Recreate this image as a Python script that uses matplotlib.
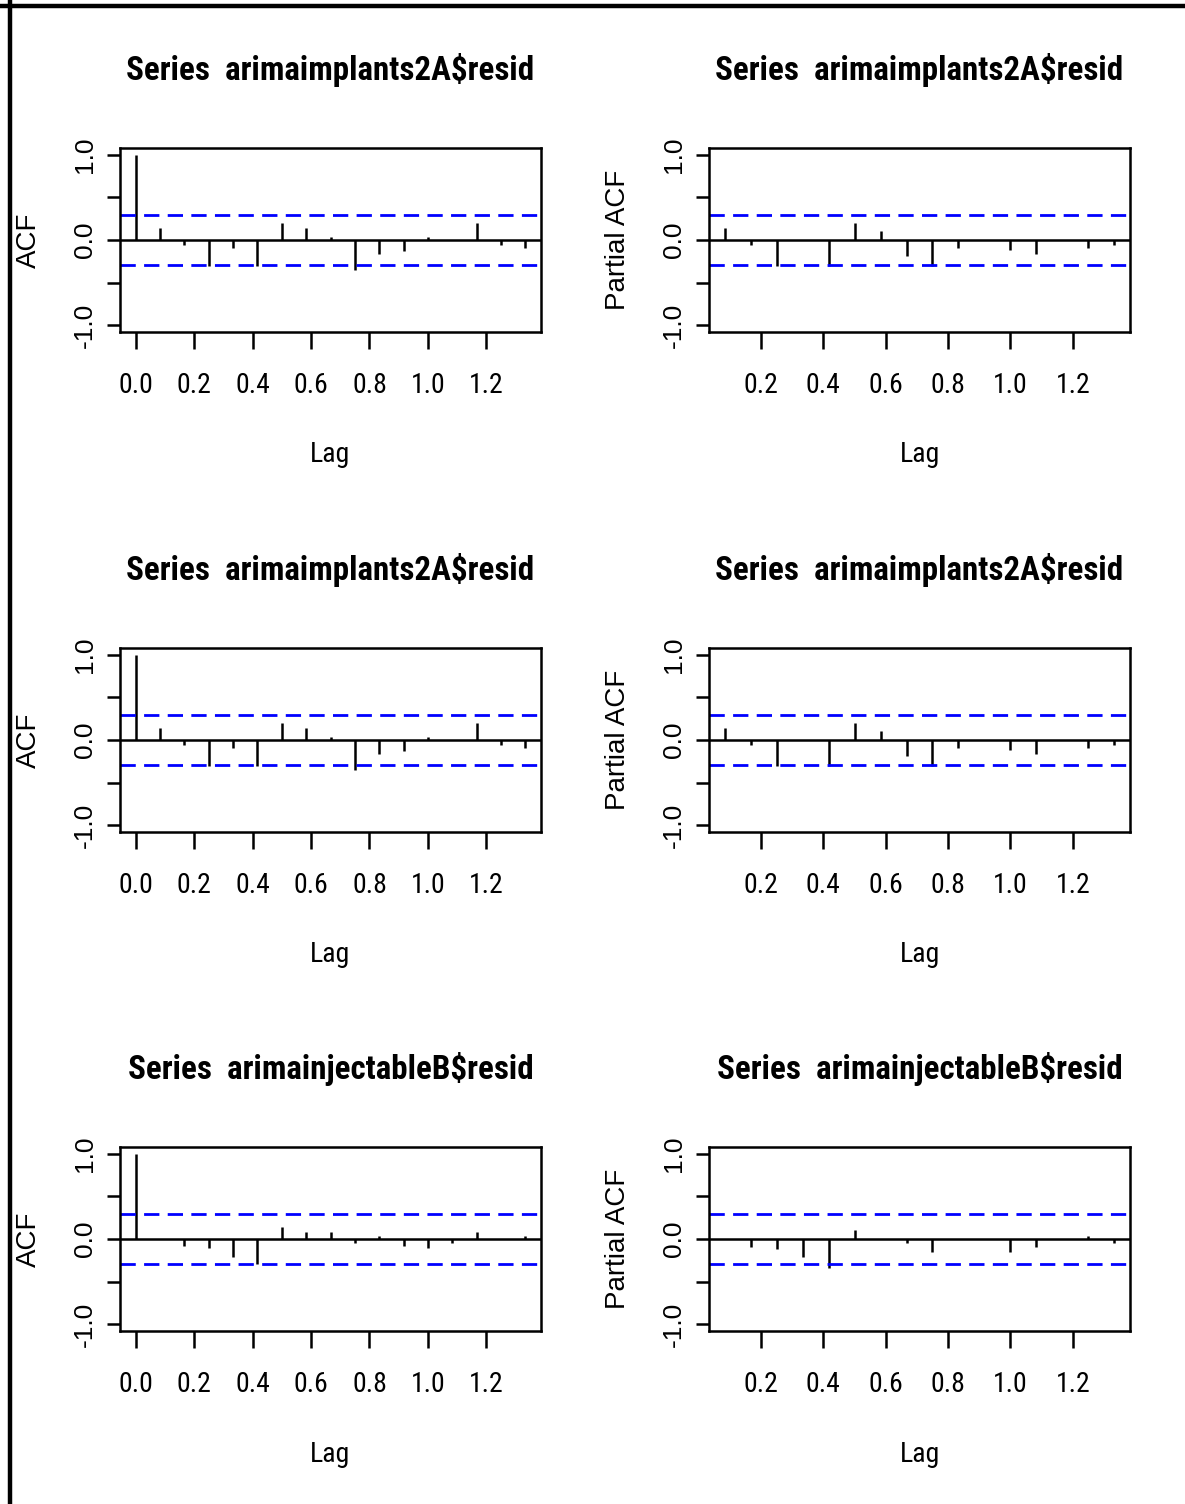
import matplotlib
matplotlib.use("Agg")
import matplotlib.pyplot as plt
from matplotlib import font_manager
import numpy as np

# ---------------- data ----------------
titles = ["Series  arimaimplants2A$resid", "Series  arimaimplants2A$resid",
          "Series  arimainjectableB$resid"]
freq = 12
acf_A = [1.0, 0.14, -0.06, -0.30, -0.09, -0.30, 0.20, 0.14, 0.04, -0.35,
         -0.16, -0.13, 0.04, 0.0, 0.20, -0.06, -0.09]
pacf_A = [0.14, -0.06, -0.30, 0.0, -0.30, 0.20, 0.11, -0.19, -0.30, -0.09,
          0.0, -0.12, -0.16, 0.0, -0.09, -0.06]
acf_B = [1.0, 0.0, -0.08, -0.11, -0.21, -0.29, 0.14, 0.08, 0.08, -0.05,
         0.04, -0.08, -0.11, -0.05, 0.08, 0.0, 0.04]
pacf_B = [0.0, -0.09, -0.12, -0.21, -0.34, 0.11, 0.0, -0.05, -0.15, 0.0,
          0.0, -0.15, -0.09, 0.0, 0.04, -0.05]
ci = 0.289
rows = [(acf_A, pacf_A), (acf_A, pacf_A), (acf_B, pacf_B)]
xticks = [0.0, 0.2, 0.4, 0.6, 0.8, 1.0, 1.2]
yticks = [-1.0, -0.5, 0.0, 0.5, 1.0]
ytick_labels = ["-1.0", "", "0.0", "", "1.0"]

# ---------------- fonts ----------------
names = {f.name for f in font_manager.fontManager.ttflist}
NARROW = None
for cand in ["Liberation Sans Narrow", "Roboto Condensed", "Open Sans Condensed",
             "DejaVu Sans Condensed"]:
    if cand in names:
        NARROW = dict(family=cand)
        break
if NARROW is None:
    NARROW = dict(family="DejaVu Sans", stretch="condensed")
REG = dict(family="Liberation Sans" if "Liberation Sans" in names else "DejaVu Sans")

W, H = 1185, 1504
fig = plt.figure(figsize=(W / 100, H / 100), dpi=100)

# figure border (left and top)
fig.add_artist(plt.Line2D([9.5 / W, 9.5 / W], [0, 1], color="black", lw=3.2,
                          transform=fig.transFigure))
fig.add_artist(plt.Line2D([0, 1], [1 - 6 / H, 1 - 6 / H], color="black", lw=3.2,
                          transform=fig.transFigure))

lefts = [120, 709]
tops = [148, 648, 1147]
aw, ah = 421, 184

for r, (acf, pacf) in enumerate(rows):
    for c in range(2):
        ax = fig.add_axes([lefts[c] / W, 1 - (tops[r] + ah) / H, aw / W, ah / H])
        if c == 0:
            vals = np.array(acf)
            lags = np.arange(len(vals)) / freq
            ylab = "ACF"
        else:
            vals = np.array(pacf)
            lags = np.arange(1, len(vals) + 1) / freq
            ylab = "Partial ACF"
        ax.vlines(lags, 0, vals, color="black", lw=1.8)
        ax.axhline(0, color="black", lw=1.8)
        for s in (ci, -ci):
            ax.axhline(s, color="#0000ff", lw=2.0, dashes=(5.5, 3.0))
        lo, hi = lags.min(), lags.max()
        ext = 0.04 * (hi - lo)
        ax.set_xlim(lo - ext, hi + ext)
        ax.set_ylim(-1.08, 1.08)
        for sp in ax.spines.values():
            sp.set_linewidth(1.8)
        ax.set_yticks(yticks)
        ax.set_yticklabels(ytick_labels, rotation=90, va="center", **REG)
        xt = xticks if c == 0 else xticks[1:]
        ax.set_xticks(xt)
        ax.set_xticklabels([f"{t:.1f}" for t in xt], **NARROW)
        ax.tick_params(axis="x", direction="out", length=12, width=1.8,
                       labelsize=20, pad=17)
        ax.tick_params(axis="y", direction="out", length=9.5, width=1.8,
                       labelsize=19, pad=7)
        ax.text(0.5, 1 + 78 / ah, titles[r], transform=ax.transAxes,
                ha="center", va="center", fontsize=23.8, fontweight="bold", **NARROW)
        ax.text(0.5, -123 / ah, "Lag", transform=ax.transAxes,
                ha="center", va="center", fontsize=20, **NARROW)
        ax.text(-91 / aw, 0.5, ylab, transform=ax.transAxes, rotation=90,
                ha="center", va="center", fontsize=20, **REG)

fig.savefig("out.png", dpi=100, facecolor="white")
